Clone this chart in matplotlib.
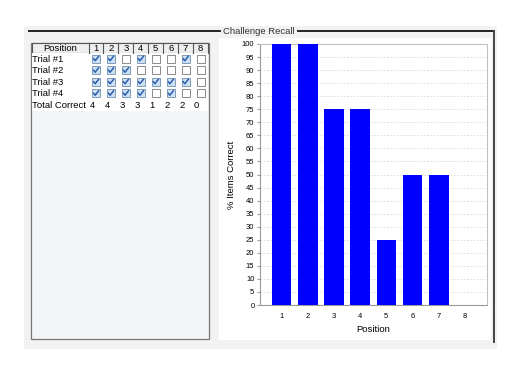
import numpy as np
import matplotlib
matplotlib.use('Agg')
import matplotlib.pyplot as plt
from matplotlib.patches import Rectangle

plt.rcParams['font.family'] = ['Liberation Sans', 'DejaVu Sans']

# data
positions = [1, 2, 3, 4, 5, 6, 7, 8]
trial_names = ['Trial #1', 'Trial #2', 'Trial #3', 'Trial #4']
trial1 = [1, 1, 0, 1, 0, 0, 1, 0]
trial2 = [1, 1, 1, 0, 0, 0, 0, 0]
trial3 = [1, 1, 1, 1, 1, 1, 1, 0]
trial4 = [1, 1, 1, 1, 0, 1, 0, 0]
total_correct = [4, 4, 3, 3, 1, 2, 2, 0]
pct_correct = [100, 100, 75, 75, 25, 50, 50, 0]

W, H = 521, 381
fig = plt.figure(figsize=(W / 100, H / 100), dpi=100)
fig.patch.set_facecolor('white')

# background axes in pixel coords for the window bits
bg = fig.add_axes([0, 0, 1, 1])
bg.set_xlim(0, W)
bg.set_ylim(H, 0)
bg.axis('off')

# outer panel + titled border
bg.add_patch(Rectangle((24, 26), 473, 323, facecolor='#f2f2f2', edgecolor='none'))
bg.plot([29, 220], [30.5, 30.5], color='#222222', lw=1.4)
bg.plot([298, 494], [30.5, 30.5], color='#222222', lw=1.4)
bg.plot([494, 494], [30.5, 342], color='#444444', lw=1.4)
bg.text(259, 31, 'Challenge Recall', ha='center', va='center', fontsize=6.8, color='#333333')

# table box
bg.add_patch(Rectangle((31, 43), 178, 296, facecolor='#f4f5f7', edgecolor='#777777', lw=0.9))

# chart panel
bg.add_patch(Rectangle((219, 38), 272, 302, facecolor='white', edgecolor='none'))

# table
x0, x1 = 31.5, 208
pos_w = 57
col_w = (x1 - x0 - pos_w) / len(positions)
hdr_top, hdr_h = 43, 10
row_h = 11.5

bg.add_patch(Rectangle((x0, hdr_top), x1 - x0, hdr_h, facecolor='#eeeeee', edgecolor='#555555', lw=0.8))
bg.text(x0 + pos_w / 2, hdr_top + hdr_h / 2 + 0.5, 'Position', ha='center', va='center', fontsize=6.8)
for i, p in enumerate(positions):
    cx = x0 + pos_w + i * col_w
    bg.plot([cx, cx], [hdr_top, hdr_top + hdr_h], color='#555555', lw=0.8)
    bg.text(cx + col_w / 2, hdr_top + hdr_h / 2 + 0.5, str(p), ha='center', va='center', fontsize=6.8)

rows_top = hdr_top + hdr_h
n_rows = len(trial_names) + 1
bg.add_patch(Rectangle((x0, rows_top), x1 - x0, n_rows * row_h, facecolor='white', edgecolor='none'))

trials = [trial1, trial2, trial3, trial4]
for r, (name, checks) in enumerate(zip(trial_names, trials)):
    cy = rows_top + (r + 0.5) * row_h
    bg.text(x0 + 1, cy + 0.5, name, ha='left', va='center', fontsize=6.8)
    for i, c in enumerate(checks):
        cx = x0 + pos_w + (i + 0.5) * col_w
        s = 8
        if c:
            bg.add_patch(Rectangle((cx - s / 2, cy - s / 2), s, s, facecolor='#cfe0f2',
                                   edgecolor='#7f9db9', lw=0.7))
            bg.plot([cx - 2.5, cx - 0.8, cx + 2.8], [cy - 0.2, cy + 2.0, cy - 2.6],
                    color='#2a5fb0', lw=1.1, solid_capstyle='round')
        else:
            bg.add_patch(Rectangle((cx - s / 2, cy - s / 2), s, s, facecolor='white',
                                   edgecolor='#8a8a8a', lw=0.7))

cy = rows_top + (len(trial_names) + 0.5) * row_h
bg.text(x0 + 1, cy + 0.5, 'Total Correct', ha='left', va='center', fontsize=6.8)
for i, t in enumerate(total_correct):
    bg.text(x0 + pos_w + i * col_w + 1, cy + 0.5, str(t), ha='left', va='center', fontsize=6.8)

# bar chart
ax_l, ax_r, ax_t, ax_b = 260, 487, 44, 305
ax = fig.add_axes([ax_l / W, (H - ax_b) / H, (ax_r - ax_l) / W, (ax_b - ax_t) / H])
ax.set_facecolor('white')
ax.bar(positions, pct_correct, width=0.75, color='#0000ff', zorder=3)
ax.set_xlim(0.18, 8.84)
ax.set_ylim(0, 100)
ax.set_yticks(range(0, 101, 5))
ax.set_xticks(positions)
ax.yaxis.grid(True, color='#d8d8d8', linestyle=(0, (2, 2)), lw=0.6, zorder=0)
for sp in ax.spines.values():
    sp.set_color('#c0c0c0')
    sp.set_linewidth(0.8)
ax.spines['left'].set_color('#999999')
ax.spines['bottom'].set_color('#999999')
ax.tick_params(axis='y', labelsize=5.5, length=2, width=0.6, color='#888888', pad=2)
ax.tick_params(axis='x', labelsize=5.5, length=0, pad=6)
ax.set_xlabel('Position', fontsize=6.8, labelpad=3)
ax.set_ylabel('% Items Correct', fontsize=6.8, labelpad=4)

fig.savefig('out.png', dpi=100)
